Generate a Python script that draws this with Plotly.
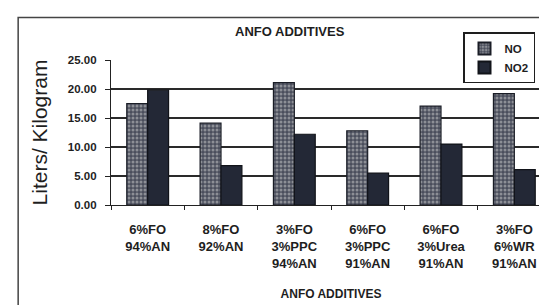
import plotly.graph_objects as go

categories = ["6%FO<br>94%AN", "8%FO<br>92%AN", "3%FO<br>3%PPC<br>94%AN",
              "6%FO<br>3%PPC<br>91%AN", "6%FO<br>3%Urea<br>91%AN", "3%FO<br>6%WR<br>91%AN"]
no_values = [17.5, 14.1, 21.1, 12.8, 17.05, 19.2]
no2_values = [19.8, 6.8, 12.2, 5.5, 10.5, 6.1]
y_ticks = [0, 5, 10, 15, 20, 25]
y_tick_labels = ["0.00", "5.00", "10.00", "15.00", "20.00", "25.00"]

FONT = "Liberation Sans, Arial, sans-serif"

fig = go.Figure()
fig.add_trace(go.Bar(
    name="NO", x=categories, y=no_values,
    marker=dict(color="#5e6270",
                pattern=dict(shape=".", fgcolor="#d0d0d0", bgcolor="#4a4e5c",
                             size=4, solidity=0.45),
                line=dict(color="#1a1d26", width=1.2)),
))
fig.add_trace(go.Bar(
    name="NO2", x=categories, y=no2_values,
    marker=dict(color="#232836", line=dict(color="#111319", width=1.2)),
))

fig.update_layout(
    width=547, height=305,
    margin=dict(l=103, r=4, t=52, b=108),
    paper_bgcolor="white", plot_bgcolor="white",
    barmode="group", bargap=0.43, bargroupgap=0,
    font=dict(family=FONT, color="#1e1e1e"),
    title=dict(text="<b>ANFO ADDITIVES</b>", x=0.515, xanchor="center",
               y=0.922, yanchor="middle", font=dict(size=13, color="#1e1e1e")),
    showlegend=True,
    legend=dict(x=0.80, y=1.19, xanchor="left", yanchor="top",
                bgcolor="white", bordercolor="#1e1e1e", borderwidth=1.5,
                font=dict(size=11.5, weight="bold"),
                itemwidth=30, tracegroupgap=0, itemsizing="constant"),
    shapes=[dict(type="rect", xref="paper", yref="paper",
                 x0=-0.211, y0=-0.9, x1=1.2, y1=1.293,
                 line=dict(color="#444", width=1.5))],
)

fig.update_xaxes(
    showline=True, linecolor="#222", linewidth=1.2,
    ticks="outside", ticklen=4, tickcolor="#222",
    tickson="boundaries", ticklabelstandoff=12,
    tickfont=dict(size=13, weight="bold", color="#1e1e1e"),
    title=dict(text="<b>ANFO ADDITIVES</b>", font=dict(size=12), standoff=20),
    showgrid=False,
)
fig.update_yaxes(
    range=[0, 25], tickvals=y_ticks, ticktext=y_tick_labels,
    showline=True, linecolor="#222", linewidth=1.2,
    ticks="outside", ticklen=5, tickcolor="#222", ticklabelstandoff=6,
    tickfont=dict(size=11.5, weight="bold", color="#1e1e1e"),
    showgrid=True, gridcolor="#2a2a2a", gridwidth=1.5,
    zeroline=False,
    title=dict(text="Liters/ Kilogram", font=dict(size=21), standoff=14),
)

fig.write_html("out.html")
